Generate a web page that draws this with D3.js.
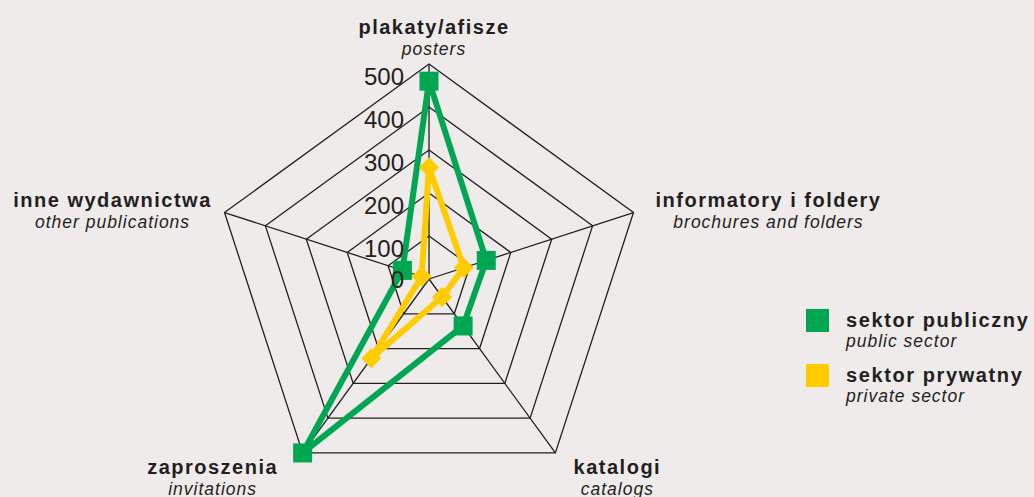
<!DOCTYPE html>
<html>
<head>
<meta charset="utf-8">
<script src="https://cdn.jsdelivr.net/npm/d3@7"></script>
<style>
  body { margin: 0; background: #eeebea; }
  svg { display: block; font-family: "Liberation Sans", Arial, sans-serif; }
</style>
</head>
<body>
<script>
// data
const axesPL = ['plakaty/afisze', 'informatory i foldery', 'katalogi', 'zaproszenia', 'inne wydawnictwa'];
const axesEN = ['posters', 'brochures and folders', 'catalogs', 'invitations', 'other publications'];
const publicValues = [460, 140, 135, 500, 65];
const privateValues = [260, 85, 52, 228, 18];
const tickValues = [0, 100, 200, 300, 400, 500];
const seriesPL = ['sektor publiczny', 'sektor prywatny'];
const seriesEN = ['public sector', 'private sector'];

// set variables
const w = 1034;
const h = 497;
const cx = 429;
const cy = 279;
const R = 215;
const green = '#00a651';
const yellow = '#ffcc00';
const ink = '#231f20';

const rScale = d3.scaleLinear().domain([0, 500]).range([0, R]);
const angle = i => i * 2 * Math.PI / axesPL.length;
const pt = (v, i) => [cx + rScale(v) * Math.sin(angle(i)), cy - rScale(v) * Math.cos(angle(i))];

const svg = d3.select('body').append('svg')
    .attr('width', w)
    .attr('height', h);

svg.append('rect').attr('width', w).attr('height', h).attr('fill', '#eeebea');

// grid rings
const grid = svg.append('g').attr('fill', 'none').attr('stroke', ink).attr('stroke-width', 1.3);
tickValues.filter(v => v > 0).forEach(v => {
    grid.append('path')
        .attr('d', d3.line()(axesPL.map((a, i) => pt(v, i))) + 'Z');
});
// spokes
axesPL.forEach((a, i) => {
    grid.append('line')
        .attr('x1', cx).attr('y1', cy)
        .attr('x2', pt(500, i)[0]).attr('y2', pt(500, i)[1]);
});

// axis labels
const labelOffset = [[5, -30], [135, -6], [62, 21], [-90, 21], [-112, -6]];
axesPL.forEach((a, i) => {
    const p = pt(500, i);
    const x = p[0] + labelOffset[i][0];
    const y = p[1] + labelOffset[i][1];
    svg.append('text')
        .attr('x', x).attr('y', y)
        .attr('text-anchor', 'middle')
        .attr('fill', ink)
        .style('font-size', '20px')
        .style('font-weight', 'bold')
        .style('letter-spacing', '1.5px')
        .text(a);
    svg.append('text')
        .attr('x', x).attr('y', y + 21)
        .attr('text-anchor', 'middle')
        .attr('fill', ink)
        .style('font-size', '17.5px')
        .style('font-style', 'italic')
        .style('letter-spacing', '1px')
        .text(axesEN[i]);
});

// series
const drawSeries = (values, color, diamond) => {
    const pts = values.map((v, i) => pt(v, i));
    svg.append('path')
        .attr('d', d3.line()(pts) + 'Z')
        .attr('fill', 'none')
        .attr('stroke', color)
        .attr('stroke-width', 6)
        .attr('stroke-linejoin', 'round');
    svg.selectAll(null)
        .data(pts)
        .enter()
        .append('path')
        .attr('d', d3.symbol().type(d3.symbolSquare).size(diamond ? 200 : 361))
        .attr('transform', d => `translate(${d[0]},${d[1]})` + (diamond ? ' rotate(45)' : ''))
        .attr('fill', color);
};
drawSeries(publicValues, green, false);
drawSeries(privateValues, yellow, true);

// scale labels
svg.selectAll('.tick-label')
    .data(tickValues)
    .enter()
    .append('text')
    .attr('class', 'tick-label')
    .attr('x', cx - 25)
    .attr('y', d => cy - rScale(d) + (d > 0 ? 13 : 1))
    .attr('dy', '0.35em')
    .attr('text-anchor', 'end')
    .attr('fill', ink)
    .style('font-size', '24px')
    .text(d => d);

// legend
const legend = svg.append('g').attr('transform', 'translate(806,309)');
[green, yellow].forEach((c, i) => {
    const g = legend.append('g').attr('transform', `translate(0,${i * 55})`);
    g.append('rect').attr('width', 23).attr('height', 23).attr('fill', c);
    g.append('text')
        .attr('x', 40).attr('y', 18)
        .attr('fill', ink)
        .style('font-size', '20px')
        .style('font-weight', 'bold')
        .style('letter-spacing', '1.6px')
        .text(seriesPL[i]);
    g.append('text')
        .attr('x', 40).attr('y', 38)
        .attr('fill', ink)
        .style('font-size', '17.5px')
        .style('font-style', 'italic')
        .style('letter-spacing', '1px')
        .text(seriesEN[i]);
});
</script>
</body>
</html>
